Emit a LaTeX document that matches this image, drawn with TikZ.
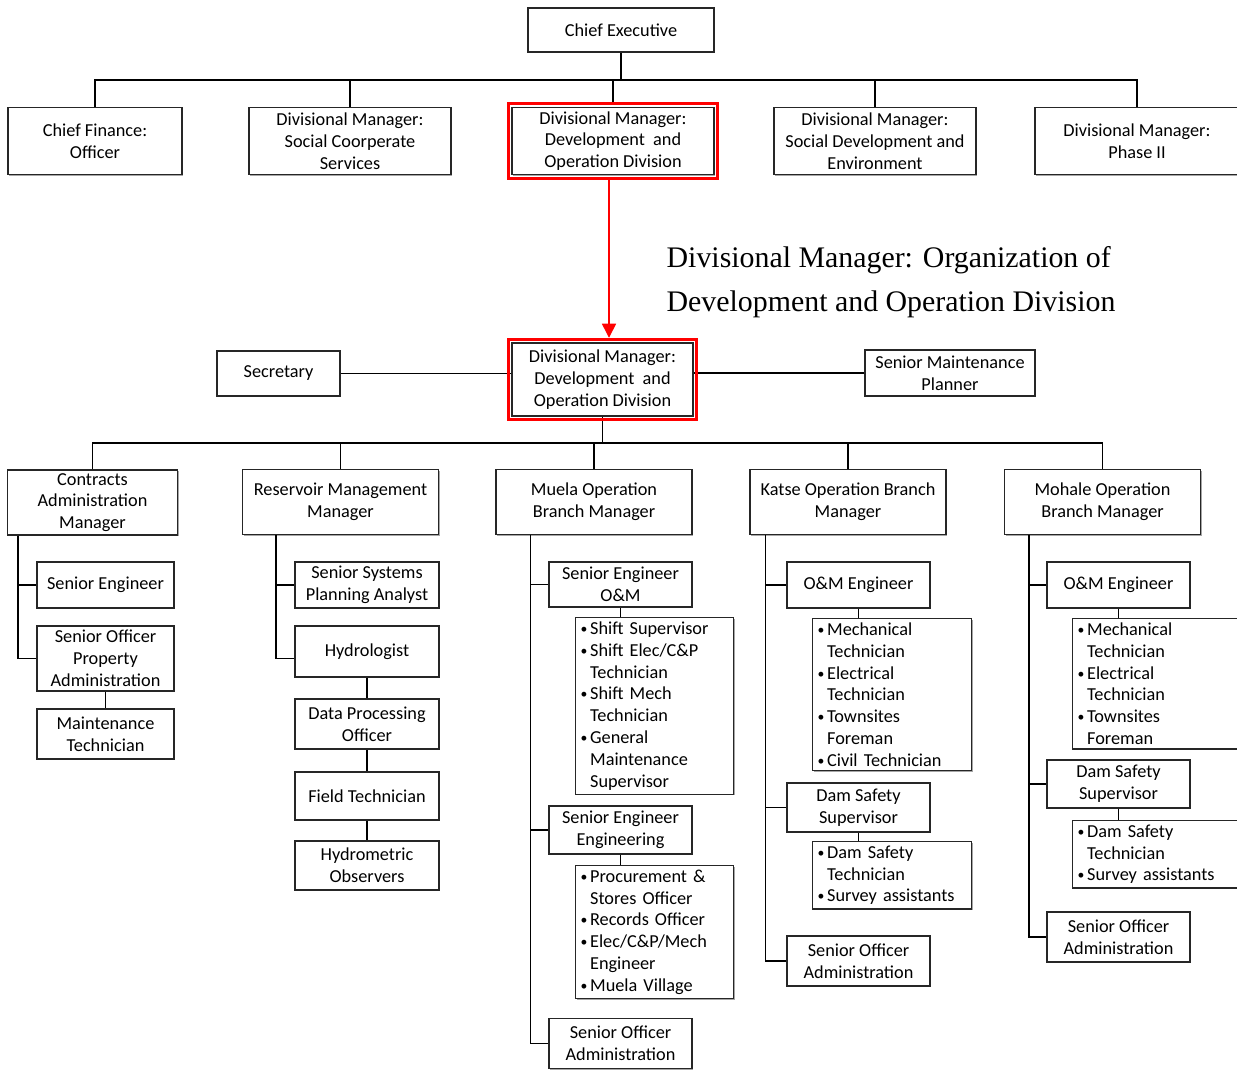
\documentclass[tikz,border=0pt]{standalone}
\usepackage{fontspec}
\setmainfont{Carlito}
\newfontfamily\captionserif{Liberation Serif}
\usetikzlibrary{arrows.meta,calc,fit,shadows}

\newcommand{\litem}{\raisebox{0.6pt}{\scalebox{0.75}{\textbullet}}\hspace{1.5pt}}
\newcommand{\lcont}{\phantom{\scalebox{0.75}{\textbullet}}\hspace{1.5pt}}

\begin{document}
\begin{tikzpicture}[x=0.02cm,y=-0.02cm,
    font=\fontsize{10.4}{12.4}\selectfont,
    line width=0.75pt,
    box/.style={draw=black!85,fill=white,align=center,inner sep=1pt,
      drop shadow={shadow xshift=0.6pt,shadow yshift=-0.6pt,fill=black!50,opacity=0.7}},
    top/.style={box,minimum width=4.04cm,minimum height=1.34cm},
    branch/.style={box,minimum width=3.92cm,minimum height=1.3cm},
    post/.style={box,minimum width=2.86cm,minimum height=0.92cm},
    duties/.style={box,align=left,anchor=north west,text width=#1,
      inner xsep=0.1cm,inner ysep=2.4pt},
    duties/.default=2.96cm,
    hilite/.style={draw=red,line width=1.6pt,inner sep=1.8pt}]
    \useasboundingbox (0,0) rectangle (1237,1071);
    \clip (0,0) rectangle (1237,1071);

    % top level
    \node[box,minimum width=3.72cm,minimum height=0.88cm] (ce) at (621,30) {Chief Executive};
    \node[top,minimum width=3.48cm] (cfo) at (95,141) {Chief Finance:\\Officer};
    \node[top] (dmscs) at (350,141) {Divisional Manager:\\Social Coorperate\\Services};
    \node[top] (dmtop) at (613,141) {Divisional Manager:\\Development~ and\\Operation Division};
    \node[top] (dmsde) at (875,141) {Divisional Manager:\\Social Development and\\Environment};
    \node[top,minimum width=4.08cm] (dmp2) at (1137,141) {Divisional Manager:\\Phase II};
    \node[hilite,fit=(dmtop)] (redtop) {};

    \coordinate (bus1) at (621,80);
    \draw (ce.south) -- (bus1);
    \draw (cfo.north) |- (bus1) -| (dmp2.north);
    \foreach \n in {dmscs,redtop,dmsde}
      \draw (\n.north) -- (\n.north |- bus1);

    \node[anchor=west,align=left,inner sep=0pt,
      font=\captionserif\fontsize{17}{25}\selectfont] (caption) at (666,282)
      {Divisional Manager: Organization of\\Development and Operation Division};

    % division
    \node[box,minimum width=3.62cm,minimum height=1.46cm] (dmmid) at (602.5,379.5)
      {Divisional Manager:\\Development~ and\\Operation Division};
    \node[box,minimum width=2.46cm,minimum height=0.9cm] (sec) at (278.5,373.5) {Secretary};
    \node[box,minimum width=3.4cm,minimum height=0.92cm] (smp) at (950,373) {Senior Maintenance\\Planner};
    \draw (sec.east) -- (sec.east -| dmmid.west);
    \draw (smp.west) -- (smp.west -| dmmid.east);
    \coordinate (bus2) at (603,443);
    \draw (dmmid.south) -- (dmmid.south |- bus2);
    \node[hilite,fit=(dmmid)] (redmid) {};

    \draw[red,line width=0.8pt,-{Triangle[width=8pt,length=8pt]}]
      (609,0 |- redtop.south) -- (609,0 |- redmid.north);

    % branch managers
    \node[branch,minimum width=3.4cm] (cam) at (92.5,502.5) {Contracts\\Administration\\Manager};
    \node[branch] (rmm) at (340.5,502) {Reservoir Management\\Manager};
    \node[branch] (mob) at (594,502) {Muela Operation\\Branch Manager};
    \node[branch] (kob) at (848,502) {Katse Operation Branch\\Manager};
    \node[branch] (mhb) at (1102.5,502) {Mohale Operation\\Branch Manager};
    \draw (cam.north) |- (bus2) -| (mhb.north);
    \foreach \n in {rmm,mob,kob}
      \draw (\n.north) -- (\n.north |- bus2);

    % contracts
    \node[post,minimum width=2.74cm] (cse) at (105.5,585) {Senior Engineer};
    \node[post,minimum width=2.74cm,minimum height=1.3cm] (cspa) at (105.5,658.5)
      {Senior Officer\\Property\\Administration};
    \node[post,minimum width=2.74cm,minimum height=1.0cm] (cmt) at (105.5,734) {Maintenance\\Technician};
    \draw (cam.south west) ++(11,0) |- (cse.west);
    \draw (cam.south west) ++(11,0) |- (cspa.west);
    \draw (cspa) -- (cmt);

    % reservoir
    \node[post,minimum width=2.88cm] (rsp) at (367,585) {Senior Systems\\Planning Analyst};
    \node[post,minimum width=2.88cm,minimum height=1.02cm] (rhy) at (367,651.5) {Hydrologist};
    \node[post,minimum width=2.88cm,minimum height=1.0cm] (rdp) at (367,724) {Data Processing\\Officer};
    \node[post,minimum width=2.88cm,minimum height=0.96cm] (rft) at (367,796) {Field Technician};
    \node[post,minimum width=2.88cm,minimum height=0.98cm] (rho) at (367,865.5) {Hydrometric\\Observers};
    \draw (rmm.south west) ++(34,0) |- (rsp.west);
    \draw (rmm.south west) ++(34,0) |- ($(rhy.west)+(0,7)$);
    \foreach \a/\b in {rhy/rdp,rdp/rft,rft/rho}
      \draw (\a) -- (\b);

    % muela
    \node[post,minimum height=0.9cm] (mse) at (620.5,584.5) {Senior Engineer\\O\&M};
    \node[duties] (mlo) at (575,617) {\litem Shift Supervisor\\\litem Shift Elec/C\&P\\\lcont Technician\\
      \litem Shift Mech\\\lcont Technician\\\litem General\\\lcont Maintenance\\\lcont Supervisor};
    \node[post,minimum height=0.96cm] (mee) at (620.5,830) {Senior Engineer\\Engineering};
    \node[duties] (mle) at (575,865) {\litem Procurement \&\\\lcont Stores Officer\\\litem Records Officer\\
      \litem Elec/C\&P/Mech\\\lcont Engineer\\\litem Muela Village};
    \node[post,minimum height=1.0cm] (msa) at (620.5,1043.5) {Senior Officer\\Administration};
    \foreach \n in {mse,mee,msa}
      \draw (mob.south west) ++(35,0) |- (\n.west);
    \draw (mse.south) -- (mse.south |- mlo.north);
    \draw (mee.south) -- (mee.south |- mle.north);

    % katse
    \node[post] (kom) at (858.5,585) {O\&M Engineer};
    \node[duties=2.98cm] (klo) at (812,618) {\litem Mechanical\\\lcont Technician\\\litem Electrical\\
      \lcont Technician\\\litem Townsites\\\lcont Foreman\\\litem Civil Technician};
    \node[post,minimum height=0.98cm] (kds) at (858.5,807.5) {Dam Safety\\Supervisor};
    \node[duties=2.98cm] (kld) at (812,841) {\litem Dam Safety\\\lcont Technician\\\litem Survey assistants};
    \node[post,minimum height=1.0cm] (ksa) at (858.5,961) {Senior Officer\\Administration};
    \foreach \n in {kom,kds,ksa}
      \draw (kob.south west) ++(16,0) |- (\n.west);
    \draw (kom.south) -- (kom.south |- klo.north);
    \draw (kds.south) -- (kds.south |- kld.north);

    % mohale
    \node[post] (hom) at (1118.5,585) {O\&M Engineer};
    \node[duties=3.3cm] (hlo) at (1072,618) {\litem Mechanical\\\lcont Technician\\\litem Electrical\\
      \lcont Technician\\\litem Townsites\\\lcont Foreman};
    \node[post,minimum height=0.96cm] (hds) at (1118.5,784) {Dam Safety\\Supervisor};
    \node[duties=3.3cm] (hld) at (1072,820) {\litem Dam Safety\\\lcont Technician\\\litem Survey assistants};
    \node[post,minimum height=1.0cm] (hsa) at (1118.5,937) {Senior Officer\\Administration};
    \foreach \n in {hom,hds,hsa}
      \draw (mhb.south west) ++(25,0) |- (\n.west);
    \draw (hom.south) -- (hom.south |- hlo.north);
    \draw (hds.south) -- (hds.south |- hld.north);
\end{tikzpicture}
\end{document}
